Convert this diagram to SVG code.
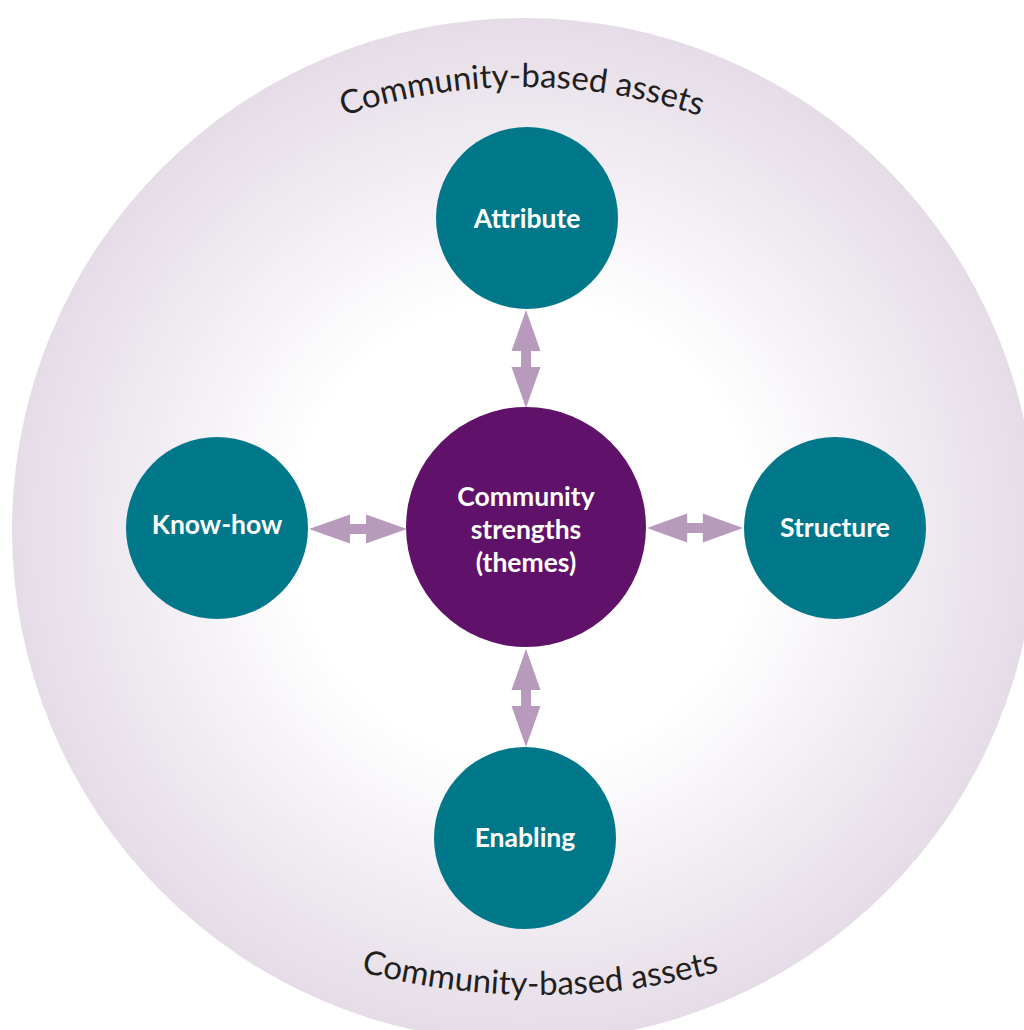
<svg xmlns="http://www.w3.org/2000/svg" width="1024" height="1030" viewBox="0 0 1024 1030">
  <style>
    .sat { fill: #00788A; }
    .core { fill: #60126A; }
    .lbl { font-family: Lato, "Open Sans", "Liberation Sans", sans-serif; font-weight: bold; font-size: 26.5px; fill: #ffffff; text-anchor: middle; }
    .arc { font-family: Lato, "Open Sans", "Liberation Sans", sans-serif; font-size: 33px; fill: #231F20; }
    .conn { fill: #B89ABC; }
  </style>
  <defs>
    <radialGradient id="bg" cx="524" cy="530" r="512" gradientUnits="userSpaceOnUse">
      <stop offset="0" stop-color="#ffffff"/>
      <stop offset="0.45" stop-color="#ffffff"/>
      <stop offset="1" stop-color="#E5DCE7"/>
    </radialGradient>
    <path id="dbl" d="M0,0 L41,-14.5 L41,-5 L57,-5 L57,-14.5 L98,0 L57,14.5 L57,5 L41,5 L41,14.5 Z"/>
    <path id="topArc" d="M -38,647 A 560 560 0 0 1 1082,647"/>
    <path id="botArc" d="M -160,295 A 700 700 0 0 0 1240,295"/>
  </defs>
  <rect width="1024" height="1030" fill="#ffffff"/>
  <g id="background">
    <circle cx="524" cy="530" r="512" fill="url(#bg)"/>
    <text class="arc"><textPath href="#topArc" startOffset="50%" text-anchor="middle">Community-based assets</textPath></text>
    <text class="arc"><textPath href="#botArc" startOffset="50%" text-anchor="middle">Community-based assets</textPath></text>
  </g>
  <g id="connectors">
    <use href="#dbl" class="conn" transform="translate(526,310) rotate(90)"/>
    <use href="#dbl" class="conn" transform="translate(526,649) rotate(90)"/>
    <use href="#dbl" class="conn" transform="translate(309,529)"/>
    <use href="#dbl" class="conn" transform="translate(647,528) scale(0.98,1)"/>
  </g>
  <g id="node-center">
    <circle class="core" cx="526" cy="527" r="120"/>
    <text class="lbl" x="526" y="506">Community</text>
    <text class="lbl" x="526" y="539">strengths</text>
    <text class="lbl" x="526" y="572">(themes)</text>
  </g>
  <g id="node-attribute">
    <circle class="sat" cx="527" cy="218" r="91"/>
    <text class="lbl" x="527" y="228">Attribute</text>
  </g>
  <g id="node-knowhow">
    <circle class="sat" cx="217" cy="528" r="91"/>
    <text class="lbl" x="217" y="534">Know-how</text>
  </g>
  <g id="node-structure">
    <circle class="sat" cx="835" cy="528" r="91"/>
    <text class="lbl" x="835" y="537">Structure</text>
  </g>
  <g id="node-enabling">
    <circle class="sat" cx="525" cy="838" r="91"/>
    <text class="lbl" x="525" y="847">Enabling</text>
  </g>
</svg>
